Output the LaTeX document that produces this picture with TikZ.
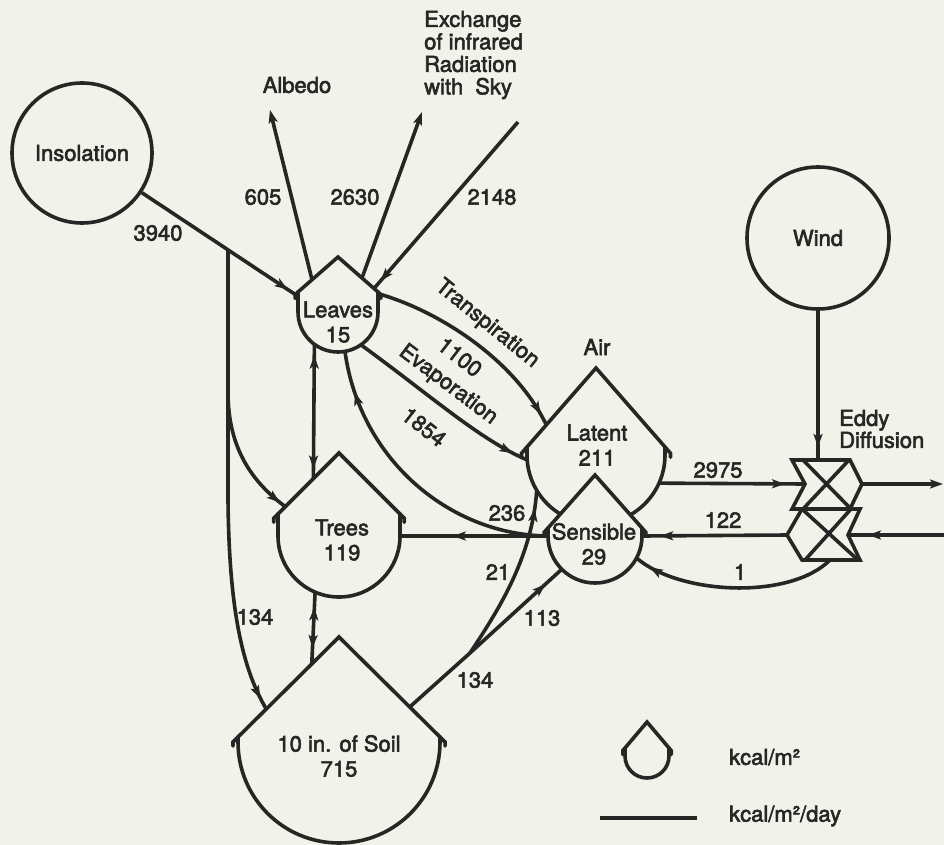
\documentclass[tikz,border=0pt]{standalone}
\usepackage{fontspec}
\setmainfont{TeX Gyre Heros}[FakeBold=2.5]
\usetikzlibrary{calc,arrows.meta,decorations.markings}
\definecolor{bg}{RGB}{241,242,234}
\definecolor{ink}{RGB}{38,38,36}
\newcommand{\storeshape}[7]{%
  \coordinate (#1-apex) at (#2,-#6);
  \coordinate (#1-sl) at (#2-#4,-#3+#5);
  \coordinate (#1-sr) at (#2+#4,-#3+#5);
  \coordinate (#1-el) at ($(#1-apex)!#7!(#1-sl)$);
  \coordinate (#1-er) at ($(#1-apex)!#7!(#1-sr)$);
  \filldraw[storeline] (#1-sl) -- (#2-#4,-#3) arc[start angle=180,end angle=360,radius=#4] -- (#1-sr) -- (#1-apex) -- cycle;
  \draw[storeline] (#1-sl) -- (#1-el) -- ++(0,-4);
  \draw[storeline] (#1-sr) -- (#1-er) -- ++(0,-4);
  \node[circle,inner sep=0pt,minimum size=2*#4pt] (#1) at (#2,-#3) {};
}
\begin{document}
\begin{tikzpicture}[x=1pt,y=1pt,
  every node/.style={font=\fontsize{22}{25}\selectfont, text=ink, inner sep=1pt, align=center},
  line/.style={draw=ink, line width=3.6pt},
  storeline/.style={draw=ink, fill=bg, line width=3.6pt, line cap=round},
  src/.style={circle, draw=ink, line width=3.6pt, inner sep=0pt},
  arr/.style={-{Stealth[length=13pt,width=9pt,inset=3pt]}},
  tipat/.style={postaction={decorate,decoration={markings,mark=at position #1 with {\arrow{Stealth[length=13pt,width=9pt,inset=3pt]}}}}},
  tipback/.style={postaction={decorate,decoration={markings,mark=at position #1 with {\arrowreversed{Stealth[length=13pt,width=9pt,inset=3pt]}}}}}
]
\useasboundingbox (0,0) rectangle (944,-845);
\fill[bg] (0,0) rectangle (944,-845);

% sources
\node[src, minimum size=140pt] (insol) at (82,-153) {Insolation};
\node[src, minimum size=142pt] (wind) at (818,-238) {Wind};

% storages
\storeshape{leaves}{338}{312}{40}{20}{257}{1.07}
\storeshape{trees}{339}{536}{61}{22}{453}{1.07}
\storeshape{soil}{339}{742}{101}{5}{637}{1.05}
\storeshape{latent}{596}{455}{69}{8}{368}{1.08}
\storeshape{sens}{595}{536}{47}{8}{475}{1.08}
\storeshape{legend}{647}{756}{22}{8}{722}{1.1}

% storage texts
\node (leavesT) at (338,-322) {Leaves\\15};
\node (treesT) at (342,-540) {Trees\\119};
\node (soilT) at (339,-756) {10 in. of Soil\\715};
\node (latentT) at (597,-445) {Latent\\211};
\node (sensT) at (594,-544) {Sensible\\29};
\node (airT) at (597,-347) {Air};

% eddy diffusion
\draw[line, line join=miter] (792,-460) -- (850,-460) -- (862,-484) -- (850,-509) -- (792,-509) -- (805,-484) -- cycle;
\draw[line] (803,-460) -- (851,-509) (849,-460) -- (803,-509);
\draw[line, line join=miter] (802,-509) -- (860,-509) -- (848,-535) -- (860,-560) -- (802,-560) -- (787,-535) -- cycle;
\draw[line] (802,-509) -- (858,-560) (851,-509) -- (805,-560);
\coordinate (eddyUin) at (805,-484);
\coordinate (eddyUout) at (862,-484);
\coordinate (eddyUtop) at (818,-460);
\coordinate (eddyLin) at (848,-535);
\coordinate (eddyLout) at (787,-535);
\coordinate (eddyLbot) at (830,-560);
\node[anchor=west, font=\fontsize{22}{22}\selectfont, align=left] (eddyT) at (838,-429) {Eddy\\Diffusion};

% top labels
\node (albedoT) at (297,-85) {Albedo};
\node[anchor=west, font=\fontsize{22}{22.5}\selectfont, align=left] (skyT) at (423,-55) {Exchange\\of infrared\\Radiation\\with\hspace{0.55em}Sky};

% named points
\coordinate (albTip) at (270,-110);
\coordinate (exTip) at (422,-112);
\coordinate (skyIn) at (518,-122);
\coordinate (jA) at ($(insol.center)!0.685!(leaves-el)$);
\coordinate (J) at (470,-653);
\coordinate (eastU) at (943,-484);
\coordinate (eastL) at (944,-535);

% insolation and branches
\draw[line, tipat=-9pt] (insol) -- (leaves-el);
\draw[line] (jA) -- ++(0,-143) coordinate (jB);
\draw[line, tipat=-7pt] (jB) .. controls +(0,-55) and (252,-482) .. ($(trees-apex)!0.88!(trees-sl)$);
\draw[line, tipat=-12pt] (jB) -- (228,-500) .. controls (229,-600) and (240,-665) .. ($(soil-apex)!0.72!(soil-sl)$);

% leaves exchanges with sky
\draw[line, arr] ($(leaves-apex)!0.65!(leaves-sl)$) -- (albTip);
\draw[line, arr] ($(leaves-apex)!0.6!(leaves-sr)$) -- (exTip);
\draw[line, tipat=-10pt] (skyIn) -- ($(leaves-apex)!0.9!(leaves-sr)$);

% leaves to air
\draw[line, tipat=-12pt] (leaves-er) .. controls (440,-312) and (515,-360) .. ($(latent-apex)!0.72!(latent-sl)$);
\draw[line, tipat=-16pt] (leaves.-55) .. controls (430,-395) and (480,-440) .. (latent.184);

% sensible to leaves and trees
\draw[line, tipat=-42pt] (sens.180) .. controls (450,-535) and (360,-460) .. (leaves.-80);
\draw[line, tipat=95pt] (sens.180) -- (trees.0);

% vertical exchanges
\draw[line, tipat=-10pt, tipback=11pt] (leaves.234) -- ($(trees-apex)!0.42!(trees-sl)$);
\draw[line, tipat=-16pt, tipback=15pt] (trees.-113) -- ($(soil-apex)!0.27!(soil-sl)$);

% soil to air
\draw[line] ($(soil-apex)!0.7!(soil-sr)$) -- (J);
\draw[line, tipat=-22pt] (J) -- (sens.-135);
\draw[line, tipat=-18pt] (J) .. controls (495,-615) and (532,-560) .. (latent.211);

% air to eddy diffusion
\draw[line, tipat=-20pt] (latent.-24) -- (eddyUin);
\draw[line, arr] (eddyUout) -- (eastU);
\draw[line, tipat=-13pt] (wind) -- (eddyUtop);
\draw[line, tipat=-20pt] (eastL) -- (eddyLin);
\draw[line, tipat=-18pt] (eddyLout) -- (sens.0);
\draw[line, tipat=-16pt] (eddyLbot) .. controls (790,-600) and (680,-595) .. (sens.-28);

% flow labels
\node (l3940) at (158,-233) {3940};
\node (l605) at (263,-197) {605};
\node (l2630) at (355,-197) {2630};
\node (l2148) at (492,-197) {2148};
\node[rotate=-39] (lTrans) at (487,-324) {Transpiration};
\node[rotate=-38] (l1100) at (460,-357) {1100};
\node[rotate=-37] (lEvap) at (448,-385) {Evaporation};
\node[rotate=-38] (l1854) at (424,-427) {1854};
\node (l236) at (507,-513) {236};
\node (l21) at (498,-572) {21};
\node (l113) at (542,-618) {113};
\node (l134r) at (475,-680) {134};
\node (l134l) at (255,-617) {134};
\node (l2975) at (718,-470) {2975};
\node (l122) at (723,-520) {122};
\node (l1) at (740,-572) {1};

% legend
\coordinate (legA) at (600,-818);
\coordinate (legB) at (697,-818);
\draw[line] (legA) -- (legB);
\node[anchor=west] (legS) at (728,-757) {kcal/m²};
\node[anchor=west] (legF) at (728,-816) {kcal/m²/day};
\end{tikzpicture}
\end{document}
